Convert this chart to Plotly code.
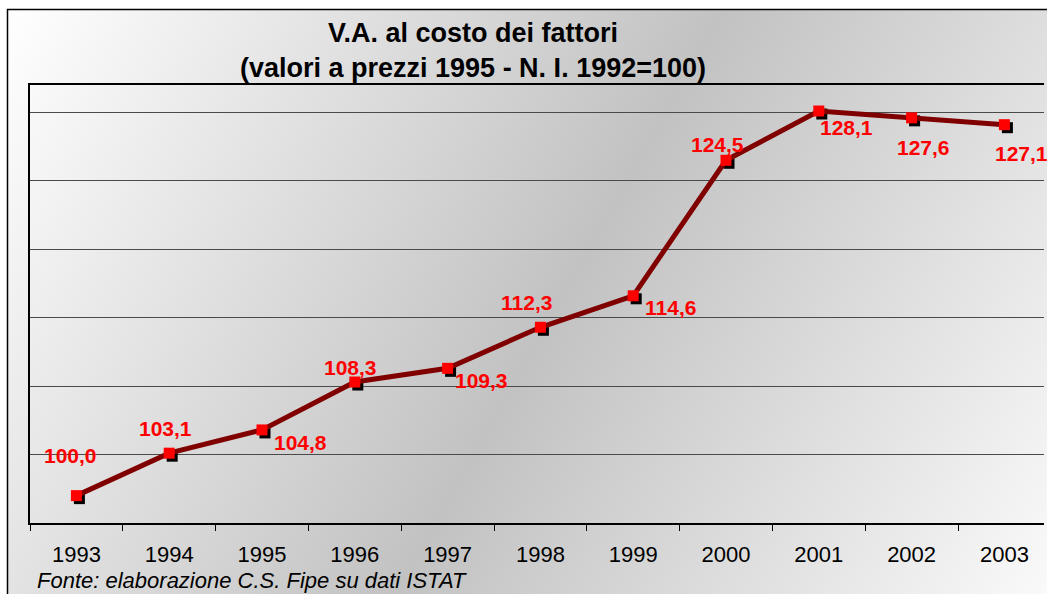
import base64
import plotly.graph_objects as go

# ---- data ----
years = ["1993", "1994", "1995", "1996", "1997", "1998", "1999", "2000", "2001", "2002", "2003"]
values = [100.0, 103.1, 104.8, 108.3, 109.3, 112.3, 114.6, 124.5, 128.1, 127.6, 127.1]
value_labels = ["100,0", "103,1", "104,8", "108,3", "109,3", "112,3", "114,6", "124,5", "128,1", "127,6", "127,1"]
title_line1 = "V.A. al costo dei fattori"
title_line2 = "(valori a prezzi 1995 - N. I. 1992=100)"
source_text = "Fonte: elaborazione C.S. Fipe su dati ISTAT"

# label offsets (pixels, screen: +x right, +y down)
label_dx = [-6, -4, 38, -4, 34, -14, 37, -9, 28, 12, 17]
label_dy = [-40, -25, 13, -15, 12, -25, 12, -16, 16, 30, 29]

W, H = 1047, 594
PL, PT, PB = 30, 85, 523
SH = 3  # shadow offset px
ML = PL
MT = PT
MB = H - PB - SH
MR = 0
PW = W - ML - MR
PH = H - MT - MB
dx = SH / PW
dy = SH / PH

FONT = "Liberation Sans, Arial, Helvetica, sans-serif"
YR = [98, 130]
XR = [-0.5, -0.5 + (PW - SH) / 92.8]

# background gradient as svg (chart frame)
bx, by = 7.5, 9.5
svg = f'''<svg xmlns="http://www.w3.org/2000/svg" width="{W}" height="{H}" viewBox="0 0 {W} {H}" preserveAspectRatio="none">
<defs><linearGradient id="g" gradientUnits="userSpaceOnUse" x1="{bx}" y1="{by}" x2="{bx+1090}" y2="{by+610}">
<stop offset="0" stop-color="#ffffff"/><stop offset="0.5" stop-color="#c2c2c2"/><stop offset="1" stop-color="#ffffff"/>
</linearGradient></defs>
<rect x="0" y="0" width="{W}" height="{H}" fill="#ffffff"/>
<rect x="{bx}" y="{by}" width="{W+40}" height="{H+40}" fill="url(#g)" stroke="#000000" stroke-width="1.5"/>
</svg>'''
src = "data:image/svg+xml;base64," + base64.b64encode(svg.encode()).decode()

fig = go.Figure()

# subplot A: axes & gridlines (invisible trace)
fig.add_trace(go.Scatter(x=years, y=values, mode="markers", marker=dict(opacity=0),
                         hoverinfo="skip", showlegend=False, xaxis="x", yaxis="y"))
# subplot B: shadow markers
fig.add_trace(go.Scatter(x=years, y=values, mode="markers",
                         marker=dict(symbol="square", size=11, color="#000000"),
                         cliponaxis=False, showlegend=False, xaxis="x2", yaxis="y2"))
# subplot C: line and red markers
fig.add_trace(go.Scatter(x=years, y=values, mode="lines+markers",
                         line=dict(color="#800000", width=5),
                         marker=dict(symbol="square", size=11, color="#ff0000", line=dict(width=0)),
                         cliponaxis=False, showlegend=False, xaxis="x3", yaxis="y3"))

common_hidden = dict(showgrid=False, zeroline=False, showline=False, showticklabels=False, ticks="")

fig.update_layout(
    width=W, height=H,
    margin=dict(l=ML, r=MR, t=MT, b=MB, pad=0),
    paper_bgcolor="rgba(0,0,0,0)", plot_bgcolor="rgba(0,0,0,0)",
    font=dict(family=FONT, color="#000000"),
    xaxis=dict(domain=[0, 1 - dx], type="category", range=XR,
               showgrid=False, zeroline=False, showline=True, linecolor="#000000", linewidth=1.5,
               mirror=True, ticks="outside", tickson="boundaries", ticklen=6, tickcolor="#000000",
               tickwidth=1, ticklabelstandoff=11,
               tickfont=dict(size=22, family=FONT, color="#000000")),
    yaxis=dict(domain=[dy, 1], range=YR, tick0=98, dtick=5, showticklabels=False,
               showgrid=True, gridcolor="#4a4a4a", gridwidth=1, zeroline=False,
               showline=True, linecolor="#000000", linewidth=1.5, ticks=""),
    xaxis2=dict(domain=[dx, 1], type="category", range=XR, anchor="y2", **common_hidden),
    yaxis2=dict(domain=[0, 1 - dy], range=YR, anchor="x2", **common_hidden),
    xaxis3=dict(domain=[0, 1 - dx], type="category", range=XR, anchor="y3", **common_hidden),
    yaxis3=dict(domain=[dy, 1], range=YR, anchor="x3", **common_hidden),
    images=[dict(source=src, xref="paper", yref="paper",
                 x=-ML / PW, y=1 + MT / PH, sizex=W / PW, sizey=H / PH,
                 xanchor="left", yanchor="top", sizing="stretch", layer="below")],
)

annotations = []
for i, (v, lab, ddx, ddy) in enumerate(zip(values, value_labels, label_dx, label_dy)):
    annotations.append(dict(x=i, y=v, xref="x", yref="y", text=f"<b>{lab}</b>", showarrow=False,
                            xanchor="center", yanchor="middle",
                            xshift=ddx, yshift=-ddy, font=dict(size=21, color="#ff0000", family=FONT)))

def px_to_paper_x(px):
    return (px - ML) / PW

def px_to_paper_y(py):
    return (H - MB - py) / PH

annotations.append(dict(x=px_to_paper_x(473), y=px_to_paper_y(33), xref="paper", yref="paper",
                        xanchor="center", yanchor="middle",
                        text=f"<b>{title_line1}</b>", showarrow=False, font=dict(size=27, family=FONT, color="#000000")))
annotations.append(dict(x=px_to_paper_x(473), y=px_to_paper_y(68), xref="paper", yref="paper",
                        xanchor="center", yanchor="middle",
                        text=f"<b>{title_line2}</b>", showarrow=False, font=dict(size=27, family=FONT, color="#000000")))
annotations.append(dict(x=px_to_paper_x(35), y=px_to_paper_y(580), xref="paper", yref="paper",
                        xanchor="left", yanchor="middle", text=f"<i>{source_text}</i>", showarrow=False,
                        font=dict(size=22, family=FONT, color="#000000")))
fig.update_layout(annotations=annotations)

fig.write_html("out.html", config={"displayModeBar": False},
               post_script="document.body.style.margin='0';document.documentElement.style.overflow='hidden';")
